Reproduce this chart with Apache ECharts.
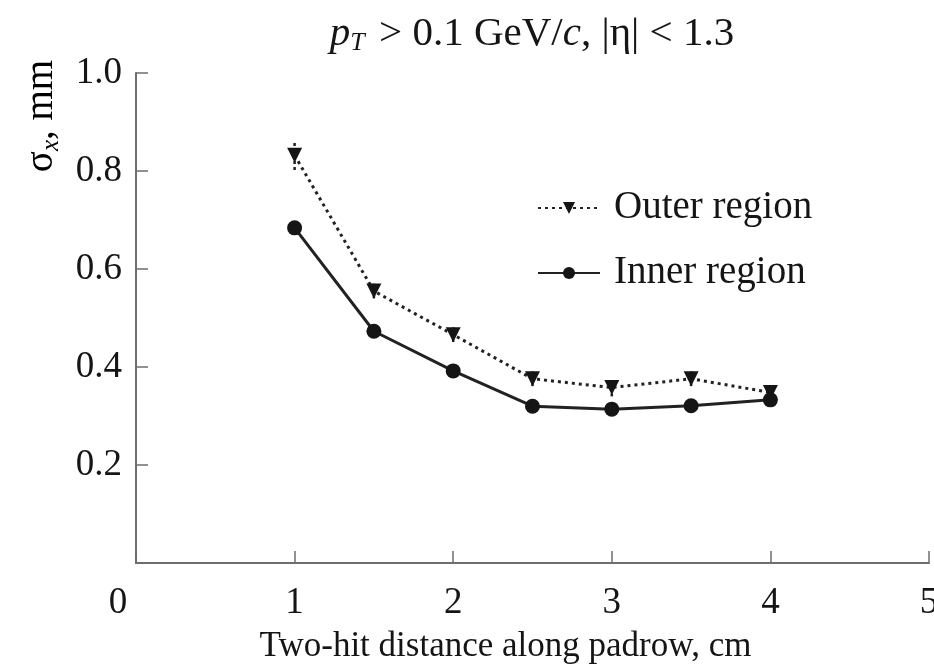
<!DOCTYPE html>
<html>
<head>
<meta charset="utf-8">
<script src="https://cdn.jsdelivr.net/npm/echarts@6/dist/echarts.min.js"></script>
<style>
  html, body { margin: 0; padding: 0; background: #fff; }
  #chart { width: 934px; height: 667px; }
</style>
</head>
<body>
<div id="chart"></div>
<script>
// Two-hit distance along padrow (cm)
const distances = [1, 1.5, 2, 2.5, 3, 3.5, 4];
// Spatial resolution sigma_x (mm)
const outerRegion = [0.832, 0.555, 0.466, 0.376, 0.358, 0.376, 0.348];
const innerRegion = [0.684, 0.473, 0.392, 0.320, 0.314, 0.321, 0.333];
// Uncertainty on the outer-region points (mm)
const outerError = [0.030, 0.015, 0.015, 0.015, 0.018, 0.015, 0.010];
const xTicks = [0, 1, 2, 3, 4, 5];
const yTicks = [0.2, 0.4, 0.6, 0.8, 1.0];

const serif = '"Liberation Serif", "DejaVu Serif", serif';
const axisColor = '#6e6e6e';
const ink = '#151515';

const pair = (xs, ys) => xs.map((x, i) => [x, ys[i]]);
const errData = distances.map((x, i) => [x, outerRegion[i] - outerError[i], outerRegion[i] + outerError[i]]);

const chart = echarts.init(document.getElementById('chart'));
chart.setOption({
  animation: false,
  backgroundColor: '#fff',
  title: {
    text: '{i|p}{sub|T}{n| > 0.1 GeV/}{i|c}{n|, |η| < 1.3}',
    left: 527,
    top: 7,
    textAlign: 'center',
    textStyle: {
      fontWeight: 'normal',
      rich: {
        n: { fontFamily: serif, fontSize: 41, fontWeight: 'normal', color: ink },
        i: { fontFamily: serif, fontSize: 41, fontWeight: 'normal', fontStyle: 'italic', color: ink },
        sub: { fontFamily: serif, fontSize: 26, fontWeight: 'normal', fontStyle: 'italic', color: ink, padding: [18, 4, 0, 0] }
      }
    }
  },
  legend: {
    orient: 'vertical',
    left: 532,
    top: 183,
    itemWidth: 62,
    itemHeight: 15,
    itemGap: 25,
    textStyle: { fontFamily: serif, fontSize: 39, lineHeight: 40, color: ink, padding: [0, 0, 0, 9] },
    data: ['Outer region', 'Inner region']
  },
  grid: { left: 136, right: 5, top: 73, bottom: 104, containLabel: false, outerBoundsMode: 'none' },
  xAxis: {
    type: 'value',
    min: 0, max: 5, interval: 1,
    axisLine: { show: true, lineStyle: { color: axisColor, width: 2 } },
    axisTick: { show: true, inside: true, length: 12, lineStyle: { color: axisColor, width: 1.5 } },
    splitLine: { show: false },
    axisLabel: {
      margin: 22,
      fontFamily: serif, fontSize: 37, color: ink,
      hideOverlap: false,
      showMaxLabel: true,
      formatter: v => (v === 0 ? '{z|0}' : String(v)),
      rich: { z: { fontFamily: serif, fontSize: 37, color: ink, padding: [0, 36, 0, 0] } }
    },
    name: 'Two-hit distance along padrow, cm',
    nameLocation: 'middle',
    nameGap: 66,
    nameTextStyle: { fontFamily: serif, fontSize: 35, color: ink, padding: [0, 54, 0, 0] }
  },
  yAxis: {
    type: 'value',
    min: 0, max: 1.0, interval: 0.2,
    axisLine: { show: true, lineStyle: { color: axisColor, width: 2 } },
    axisTick: { show: true, inside: true, length: 12, lineStyle: { color: axisColor, width: 1.5 } },
    splitLine: { show: false },
    axisLabel: {
      margin: 14,
      fontFamily: serif, fontSize: 37, color: ink,
      formatter: v => (yTicks.some(t => Math.abs(t - v) < 1e-9) ? v.toFixed(1) : '')
    }
  },
  graphic: [{
    type: 'text',
    x: 42,
    y: 116,
    rotation: Math.PI / 2,
    style: {
      text: '{n|σ}{sub|x}{n|, mm}',
      align: 'center',
      verticalAlign: 'middle',
      rich: {
        n: { fontFamily: serif, fontSize: 39, color: ink },
        sub: { fontFamily: serif, fontSize: 25, fontStyle: 'italic', color: ink, padding: [18, 0, 0, 0] }
      }
    }
  }],
  series: [
    {
      name: 'Outer region',
      type: 'line',
      data: pair(distances, outerRegion),
      symbol: 'triangle',
      symbolRotate: 180,
      symbolSize: 15,
      itemStyle: { color: ink },
      lineStyle: { color: '#222', width: 3, type: [3, 4] },
      z: 3
    },
    {
      name: 'Inner region',
      type: 'line',
      data: pair(distances, innerRegion),
      symbol: 'circle',
      symbolSize: 15,
      itemStyle: { color: ink },
      lineStyle: { color: '#222', width: 3 },
      z: 3
    },
    {
      name: 'Outer error',
      type: 'custom',
      data: errData,
      z: 2,
      renderItem: (params, api) => {
        const lo = api.coord([api.value(0), api.value(1)]);
        const hi = api.coord([api.value(0), api.value(2)]);
        return {
          type: 'line',
          shape: { x1: lo[0], y1: lo[1], x2: hi[0], y2: hi[1] },
          style: { stroke: '#222', lineWidth: 2.5, lineDash: [3, 3] }
        };
      }
    }
  ]
});
</script>
</body>
</html>
